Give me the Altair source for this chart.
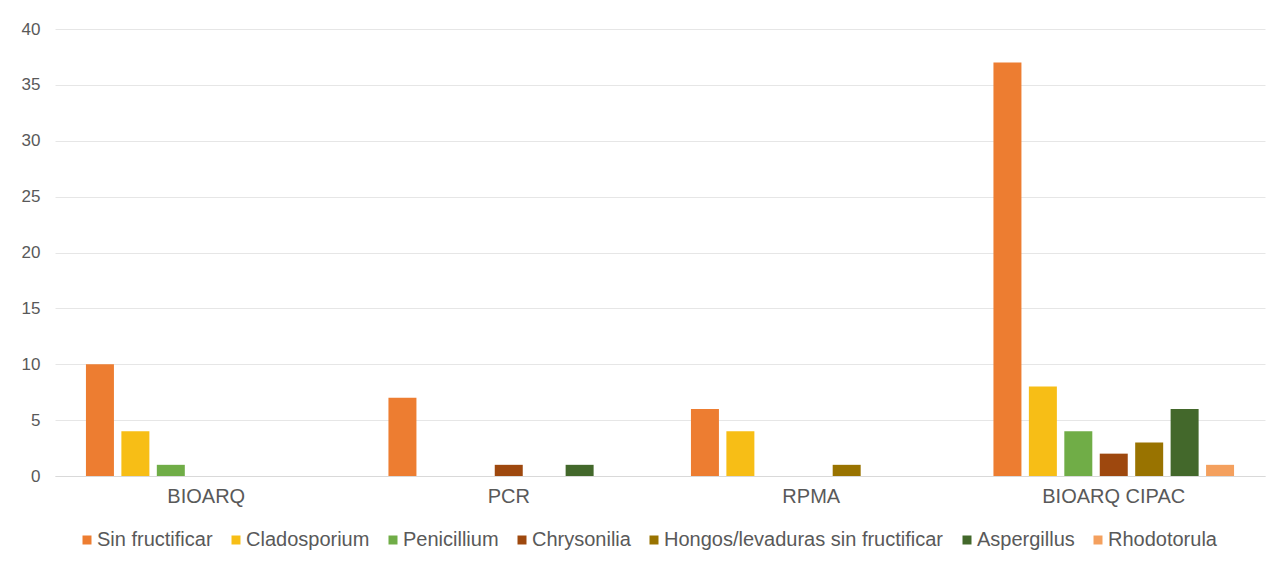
import altair as alt
import pandas as pd

groups = ["BIOARQ", "PCR", "RPMA", "BIOARQ CIPAC"]
series = ["Sin fructificar", "Cladosporium", "Penicillium", "Chrysonilia",
          "Hongos/levaduras sin fructificar", "Aspergillus", "Rhodotorula"]
colors = ["#ED7D31", "#F7BE16", "#70AD47", "#9E480E", "#997300", "#43682B", "#F4A05E"]

sin_fructificar = [10, 7, 6, 37]
cladosporium = [4, 0, 4, 8]
penicillium = [1, 0, 0, 4]
chrysonilia = [0, 1, 0, 2]
hongos = [0, 0, 1, 3]
aspergillus = [0, 1, 0, 6]
rhodotorula = [0, 0, 0, 1]

vals = [sin_fructificar, cladosporium, penicillium, chrysonilia, hongos, aspergillus, rhodotorula]
rows = []
for s, v in zip(series, vals):
    for g, x in zip(groups, v):
        rows.append({"grupo": g, "serie": s, "valor": x})
df = pd.DataFrame(rows)

FONT = "Liberation Sans"
GRAY = "#595959"

chart = alt.Chart(df).mark_bar().encode(
    x=alt.X("grupo:N", sort=groups, title=None,
            scale=alt.Scale(paddingInner=0.18, paddingOuter=0.09),
            axis=alt.Axis(labelAngle=0, labelFontSize=20, labelColor=GRAY, labelFont=FONT,
                          ticks=False, domainColor="#D9D9D9", labelPadding=10)),
    xOffset=alt.XOffset("serie:N", sort=series,
                        scale=alt.Scale(paddingInner=0.21, paddingOuter=0.105)),
    y=alt.Y("valor:Q", title=None,
            scale=alt.Scale(domain=[0, 40]),
            axis=alt.Axis(values=list(range(0, 41, 5)), labelFontSize=17, labelColor=GRAY,
                          labelFont=FONT, ticks=False, domain=False, gridColor="#E6E6E6",
                          labelPadding=15)),
    color=alt.Color("serie:N", sort=series,
                    scale=alt.Scale(domain=series, range=colors),
                    legend=alt.Legend(title=None, orient="none", direction="horizontal",
                                      legendX=22, legendY=501,
                                      symbolType="square", symbolSize=81,
                                      symbolStrokeWidth=0, labelLimit=500,
                                      labelFontSize=20, labelColor=GRAY, labelFont=FONT,
                                      columnPadding=13, labelOffset=0)),
).properties(
    width=1210, height=447,
    autosize=alt.AutoSizeParams(type="none"),
    padding={"left": 55, "top": 29, "right": 10, "bottom": 86},
).configure_view(stroke=None)

chart.save("out.html", embed_options={"renderer": "svg", "actions": False})
